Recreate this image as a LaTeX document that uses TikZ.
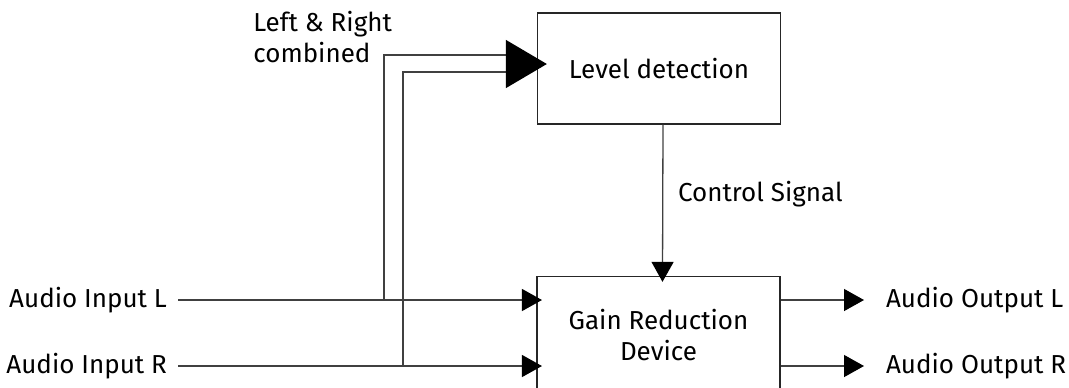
\documentclass[tikz,border=0pt]{standalone}
\usepackage{fontspec}
\setmainfont{Fira Sans}
\usetikzlibrary{arrows.meta}
\usetikzlibrary{calc}

\begin{document}
\begin{tikzpicture}[x=0.5pt,y=-0.5pt,
    every node/.style={font=\fontsize{13}{15.5}\selectfont},
    block/.style={draw=black!85,line width=0.65pt,inner sep=0pt,minimum width=121.5pt},
    wire/.style={draw=black!75,line width=0.65pt},
    tip/.style={-{Triangle[length=10pt,width=11pt,color=black]}},
    bigtip/.style={-{Triangle[length=20.5pt,width=24pt,color=black]}}]
  \useasboundingbox (0,0) rectangle (1069,387);

  \node[block,minimum height=55.5pt] (lvl) at (659,68.5) {Level detection};
  \node[block,minimum height=58.5pt,align=center] (gain) at (658.5,335) {Gain Reduction\\Device};

  \node[anchor=east] (inl) at (174,300) {Audio Input L};
  \node[anchor=east] (inr) at (174,366) {Audio Input R};
  \node[anchor=west] (outl) at (879,300) {Audio Output L};
  \node[anchor=west] (outr) at (879,366) {Audio Output R};
  \node[anchor=north west,align=left,inner sep=0pt] (lr) at (253,11) {Left \& Right\\combined};

  \coordinate (tapl) at (384,300);
  \coordinate (tapr) at (403,366);
  \coordinate (mix) at (506,64);

  \draw[wire,tip,shorten <=2pt,shorten >=-2.8pt] (inl.east) -- (inl.east -| gain.west);
  \draw[wire,tip,shorten <=2pt,shorten >=-2.8pt] (inr.east) -- (inr.east -| gain.west);
  \draw[wire,tip,shorten >=7.5pt] (outl.west -| gain.east) -- (outl.west);
  \draw[wire,tip,shorten >=7.5pt] (outr.west -| gain.east) -- (outr.west);

  \draw[wire] (tapl) |- ($(mix)+(0,-9)$);
  \draw[wire] (tapr) |- ($(mix)+(0,8)$);
  \draw[wire,bigtip,shorten >=-5pt] (mix) -- (mix -| lvl.west);

  \draw[wire,tip,shorten >=-3pt] ([xshift=2pt]lvl.south) --node[right,xshift=4pt,pos=0.46]{Control Signal} ([xshift=2pt]gain.north);

\end{tikzpicture}
\end{document}
